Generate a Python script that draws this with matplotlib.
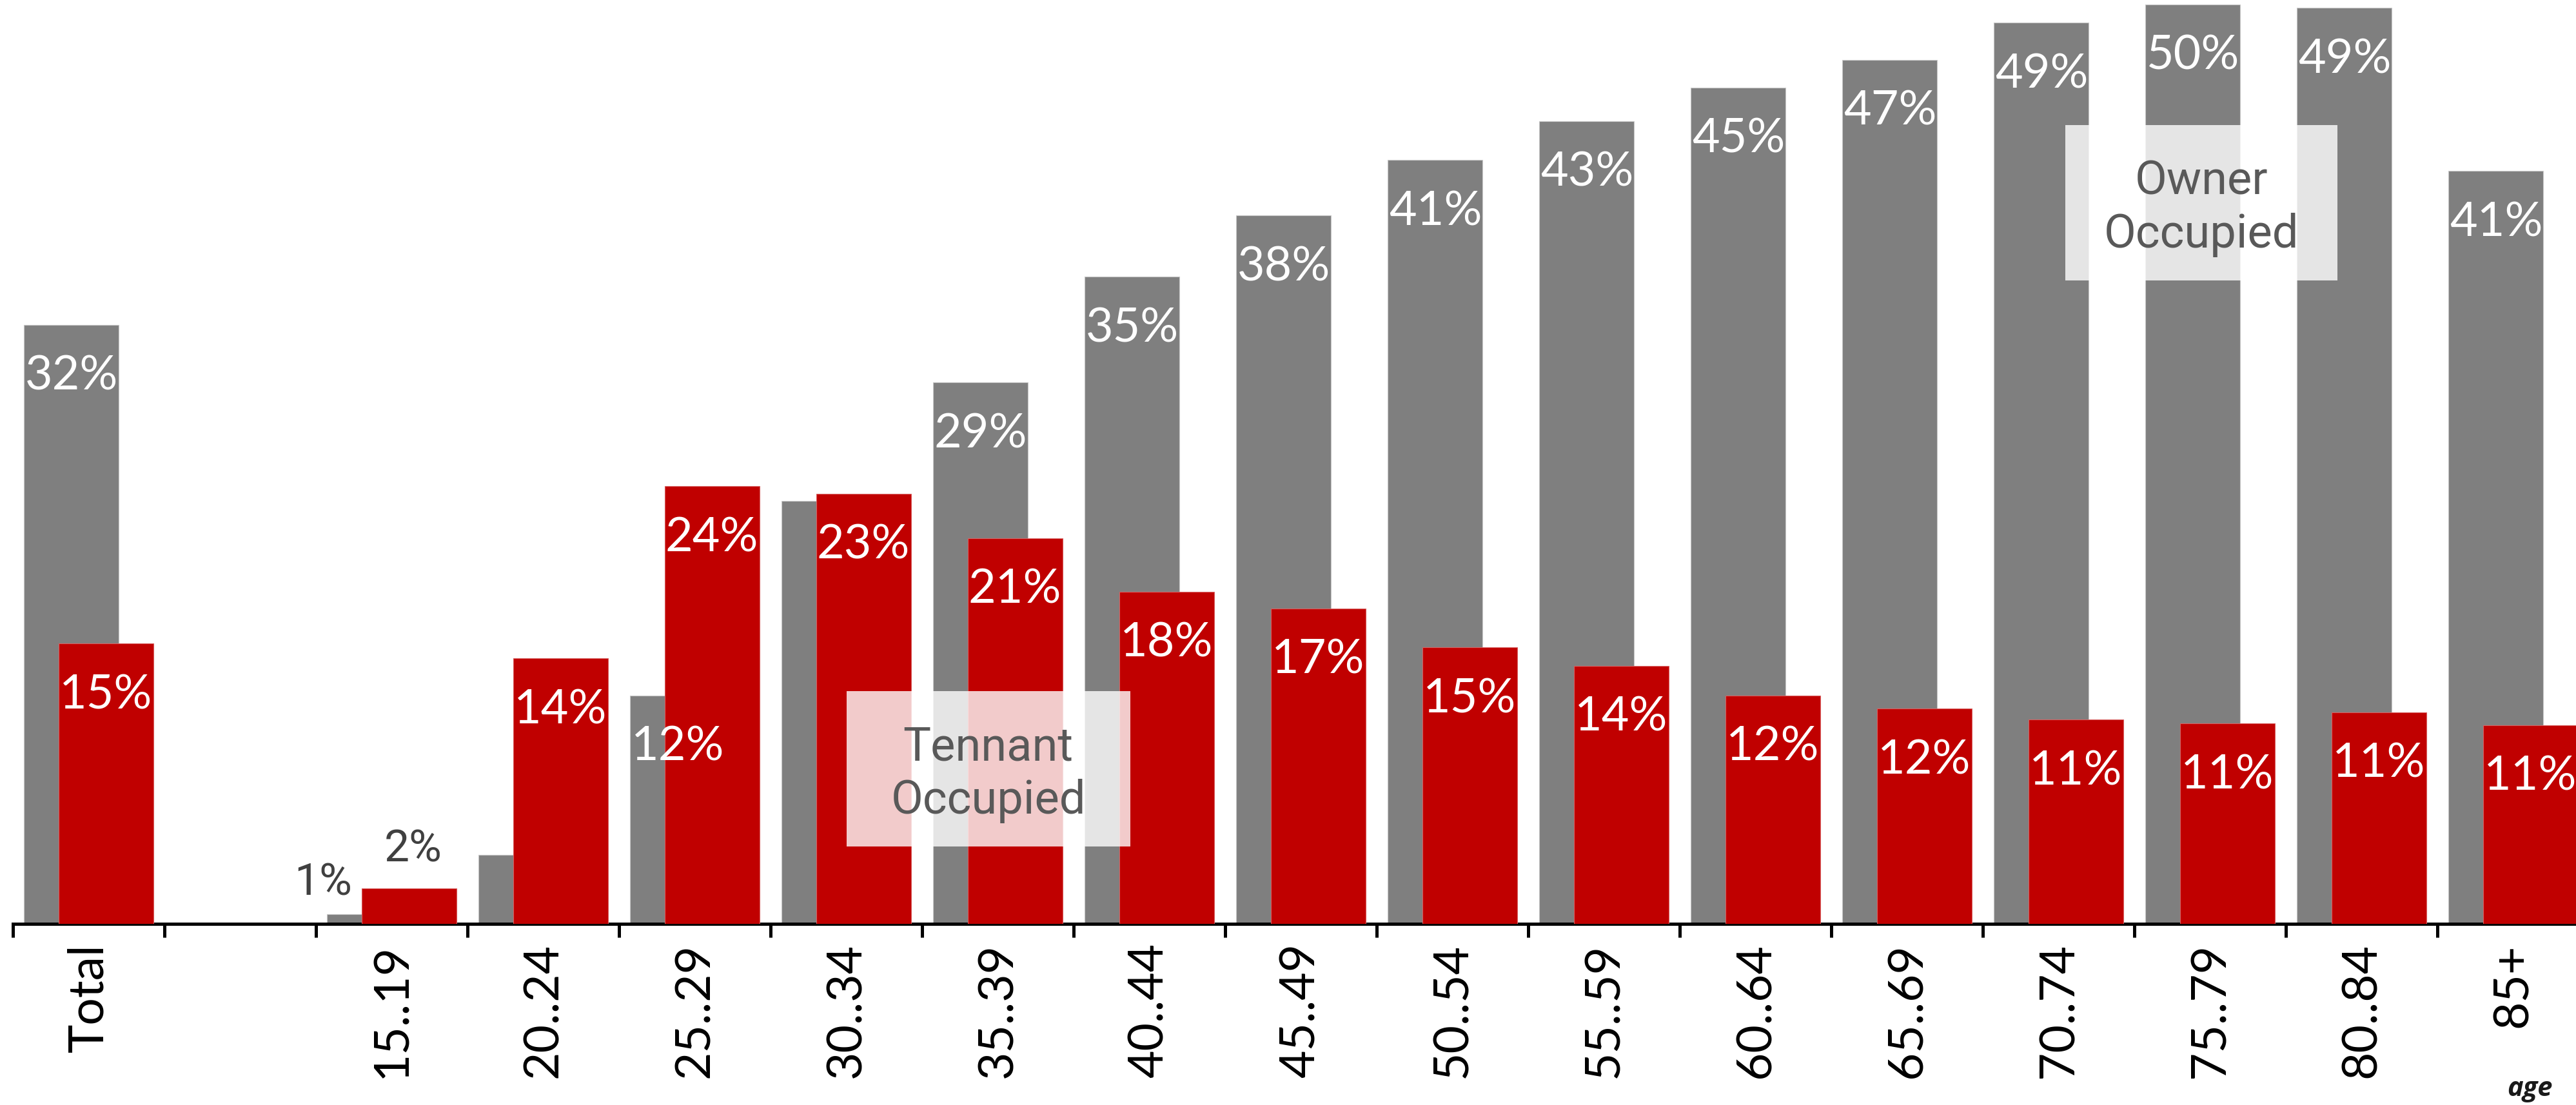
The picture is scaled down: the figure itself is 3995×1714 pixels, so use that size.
import numpy as np
import matplotlib
matplotlib.use("Agg")
import matplotlib.pyplot as plt
from matplotlib.patches import Rectangle

categories = ['Total', '', '15..19', '20..24', '25..29', '30..34', '35..39',
              '40..44', '45..49', '50..54', '55..59', '60..64', '65..69',
              '70..74', '75..79', '80..84', '85+']
owner = [32.3, np.nan, 0.5, 3.7, 12.3, 22.8, 29.2, 34.9, 38.2, 41.2, 43.3,
         45.1, 46.6, 48.6, 49.6, 49.4, 40.6]
tenant = [15.1, np.nan, 1.9, 14.3, 23.6, 23.2, 20.8, 17.9, 17.0, 14.9, 13.9,
          12.3, 11.6, 11.0, 10.8, 11.4, 10.7]
owner_labelled = [True, False, True, False, True, False, True, True, True,
                  True, True, True, True, True, True, True, True]

GREY = '#7f7f7f'
RED = '#c00000'
W, H = 3995, 1714

fig = plt.figure(figsize=(W / 100, H / 100), dpi=100)
ax = fig.add_axes([20 / W, (H - 1432.5) / H, 17 * 235 / W, 1432.5 / H])

x = np.arange(len(categories))
off = 0.113
bw = 0.6255
ax.bar(x - off, owner, width=bw, color=GREY, edgecolor='#c8c8c8', linewidth=0.8, zorder=2)
ax.bar(x + off, tenant, width=bw, color=RED, edgecolor='#d86060', linewidth=0.8, zorder=3)

def pct(v):
    return f"{int(v + 0.5)}%"

for i in x:
    o, t = owner[i], tenant[i]
    if not np.isnan(o) and owner_labelled[i]:
        if o < 5:
            ax.text(i - off - 0.34, o + 1.7, pct(o), ha='center', va='center',
                    fontsize=50, color='#404040', family='Roboto', zorder=6)
        else:
            ax.text(i - off, o - 2.8, pct(o), ha='center', va='center',
                    fontsize=53, color='white', family='Lato', zorder=6)
    if not np.isnan(t):
        if t < 5:
            ax.text(i + off + 0.03, t + 2.1, pct(t), ha='center', va='center',
                    fontsize=50, color='#404040', family='Roboto', zorder=6)
        else:
            ax.text(i + off, t - 2.8, pct(t), ha='center', va='center',
                    fontsize=53, color='white', family='Lato', zorder=6)

# semi-transparent callout boxes naming the two series
for (x0, x1, y0, y1, label) in [(13.045, 14.84, 34.7, 43.08, 'Owner\nOccupied'),
                                (5.0, 6.874, 4.16, 12.54, 'Tennant\nOccupied')]:
    ax.add_patch(Rectangle((x0, y0), x1 - x0, y1 - y0, facecolor='white',
                           alpha=0.8, edgecolor='none', zorder=4))
    ax.text((x0 + x1) / 2, (y0 + y1) / 2 - 0.3, label, ha='center', va='center',
            fontsize=52, color='#595959', family='Roboto', linespacing=1.25, zorder=5)

ax.set_xlim(-0.5, 16.5)
ax.set_ylim(0, 49.83)

for s in ['left', 'top', 'right']:
    ax.spines[s].set_visible(False)
ax.spines['bottom'].set_linewidth(3.6)
ax.spines['bottom'].set_color('black')
ax.set_yticks([])

ax.set_xticks(np.arange(-0.5, 17, 1))
ax.set_xticklabels([])
ax.tick_params(axis='x', which='major', length=15, width=3.6, color='black')
ax.set_xticks(x, minor=True)
ax.set_xticklabels(categories, minor=True, rotation=90, fontsize=54, family='Lato')
ax.tick_params(axis='x', which='minor', length=0, pad=22)

fig.text(3923 / W, 1 - 1689 / H, 'age', ha='center', va='center', fontsize=30,
         style='italic', weight='bold', family='Open Sans', color='#1a1a1a')

fig.savefig('out.png', dpi=100)
